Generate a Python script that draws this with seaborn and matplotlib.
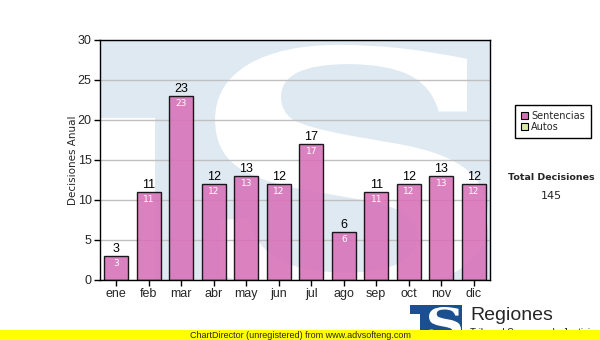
import matplotlib
matplotlib.use("Agg")
import matplotlib.pyplot as plt
import seaborn as sns
from matplotlib.patches import Rectangle, PathPatch, Patch
from matplotlib.textpath import TextPath
from matplotlib.font_manager import FontProperties
from matplotlib.transforms import Affine2D

# datos del gráfico
meses = ['ene', 'feb', 'mar', 'abr', 'may', 'jun', 'jul', 'ago', 'sep', 'oct', 'nov', 'dic']
sentencias = [3, 11, 23, 12, 13, 12, 17, 6, 11, 12, 13, 12]
series = ['Sentencias', 'Autos']
total_titulo = 'Total Decisiones'
total_valor = 145

W, H = 600, 340
COLOR_BARRA = '#d870b8'
COLOR_AUTOS = '#d8eba0'
AZUL_CLARO = '#dfe9f2'
AZUL_LOGO = '#1b4f8f'


def fx(x):
    return x / W


def fy(y):
    return 1 - y / H


def patch_s(caja, transform, color, zorder):
    """Letra S (como trazo) ajustada a una caja (x0, x1, y0, y1)."""
    tp = TextPath((0, 0), 'S', size=1,
                  prop=FontProperties(family='DejaVu Serif', weight='bold'))
    ext = tp.get_extents()
    x0, x1, y0, y1 = caja
    tr = (Affine2D().translate(-ext.x0, -ext.y0)
          .scale((x1 - x0) / ext.width, (y1 - y0) / ext.height)
          .translate(x0, y0))
    return PathPatch(tr.transform_path(tp), transform=transform,
                     facecolor=color, edgecolor='none', zorder=zorder)


sns.set_style("white")
plt.rcParams['font.family'] = ['Liberation Sans', 'DejaVu Sans']

fig = plt.figure(figsize=(6, 3.4), dpi=100)
ax = fig.add_axes([fx(100), 60 / H, 390 / W, 240 / H])

# marca de agua (logo TS)
ax.add_patch(Rectangle((0, 0.675), 1, 0.325, transform=ax.transAxes,
                       facecolor=AZUL_CLARO, edgecolor='none', zorder=0.1))
ax.add_patch(Rectangle((0.141, 0), 0.859, 1, transform=ax.transAxes,
                       facecolor=AZUL_CLARO, edgecolor='none', zorder=0.1))
s = patch_s((0.295, 0.995, -0.05, 0.98), ax.transAxes, 'white', 0.2)
s.set_clip_on(True)
ax.add_patch(s)

sns.barplot(x=meses, y=sentencias, color=COLOR_BARRA, saturation=1,
            edgecolor='black', linewidth=1, width=0.73, alpha=0.88, ax=ax, zorder=2)

ax.set_ylim(0, 30)
ax.set_xlim(-0.5, 11.5)
ax.set_yticks(range(0, 31, 5))
ax.yaxis.grid(True, color='#c0c0c0', linewidth=1)
ax.set_axisbelow(True)
for sp in ax.spines.values():
    sp.set_color('black')
    sp.set_linewidth(1)
    sp.set_zorder(5)
ax.tick_params(axis='both', direction='out', length=4, width=1, color='black',
               labelsize=9, pad=2, left=True, bottom=True)
ax.set_ylabel('Decisiones Anual', fontsize=7.5, family='DejaVu Sans', labelpad=0)
ax.set_xlabel('')

cont = ax.containers[0]
ax.bar_label(cont, padding=1, fontsize=9, color='black')
ax.bar_label(cont, padding=-8.5, fontsize=6.5, color='white', family='DejaVu Sans')

# leyenda
handles = [Patch(facecolor=COLOR_BARRA, edgecolor='black', linewidth=0.8),
           Patch(facecolor=COLOR_AUTOS, edgecolor='black', linewidth=0.8)]
leg = fig.legend(handles, series, loc='upper left', bbox_to_anchor=(fx(510), fy(100)),
                 fancybox=False, edgecolor='black', framealpha=1, borderpad=0.6,
                 handlelength=0.7, handleheight=0.7, handletextpad=0.4,
                 labelspacing=0.15, prop={'family': 'DejaVu Sans', 'size': 7})
leg.get_frame().set_linewidth(1)

fig.text(fx(551), fy(178), total_titulo, ha='center', va='center',
         fontsize=6.8, weight='bold', family='DejaVu Sans')
fig.text(fx(551), fy(196), str(total_valor), ha='center', va='center',
         fontsize=8, family='DejaVu Sans')

# logo inferior
fig.patches.append(Rectangle((fx(410), fy(314)), 52 / W, 9 / H, transform=fig.transFigure,
                             facecolor=AZUL_LOGO, edgecolor='none', zorder=1))
fig.patches.append(Rectangle((fx(420), fy(340)), 42 / W, 35 / H, transform=fig.transFigure,
                             facecolor=AZUL_LOGO, edgecolor='none', zorder=1))
fig.patches.append(patch_s((fx(429), fx(461), fy(339), fy(307)), fig.transFigure, 'white', 2))
fig.text(fx(470), fy(316), 'Regiones', ha='left', va='center', fontsize=14)
fig.text(fx(470), fy(333.5), 'Tribunal Supremo de Justicia', ha='left', va='center',
         fontsize=7, zorder=2)

# banda amarilla
fig.patches.append(Rectangle((0, 0), 1, 10 / H, transform=fig.transFigure,
                             facecolor='#ffff00', edgecolor='none', zorder=3))
fig.text(fx(190), fy(335), 'ChartDirector (unregistered) from www.advsofteng.com',
         ha='left', va='center', fontsize=6.5, zorder=4)

fig.savefig('out.png', dpi=100)
